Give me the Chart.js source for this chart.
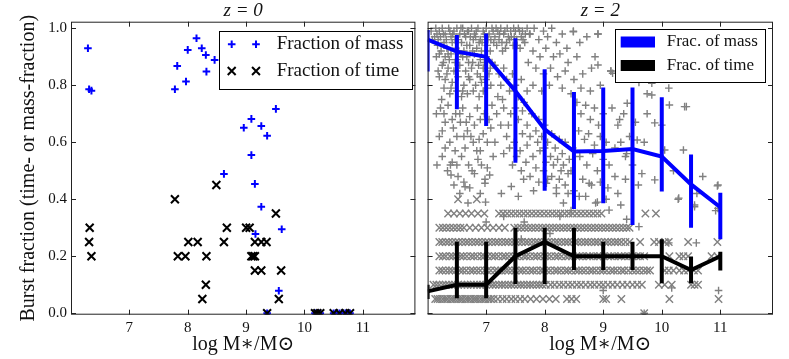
<!DOCTYPE html>
<html>
<head>
<meta charset="utf-8">
<script src="https://cdn.jsdelivr.net/npm/chart.js@4.4.3/dist/chart.umd.min.js"></script>
<style>
  html, body { margin: 0; padding: 0; background: #fff; }
  #wrap { position: relative; width: 789px; height: 359px; overflow: hidden; }
  canvas { position: absolute; top: 0; }
  #c-z0 { left: 0; }
  #c-z2 { left: 421px; }
</style>
</head>
<body>
<div id="wrap">
  <canvas id="c-z0" width="423" height="359"></canvas>
  <canvas id="c-z2" width="368" height="359"></canvas>
</div>
<script>
const FONT = "'Liberation Serif', 'DejaVu Serif', serif";
const BLUE = "#0000ff";
const GREY = "#808080";
const INK = "#111";

const xTicks = [7, 8, 9, 10, 11];
const yTicks = [0, 0.2, 0.4, 0.6, 0.8, 1.0];
const yTickText = ["0.0", "0.2", "0.4", "0.6", "0.8", "1.0"];

// z = 0: individual galaxies
const z0MassX = [6.29, 6.31, 6.35, 7.78, 7.82, 7.97, 8.0, 8.15, 8.24, 8.31, 8.32, 8.46, 8.62, 8.96, 9.09, 9.09, 9.15, 9.16, 9.26, 9.26, 9.36, 9.51, 9.56, 9.61, 9.36, 10.18, 10.22, 10.27, 10.5, 10.6, 10.7, 10.78];
const z0MassY = [0.93, 0.786, 0.781, 0.786, 0.868, 0.813, 0.924, 0.965, 0.93, 0.906, 0.848, 0.889, 0.489, 0.651, 0.682, 0.555, 0.454, 0.278, 0.657, 0.374, 0.623, 0.717, 0.079, 0.295, 0, 0, 0, 0, 0, 0, 0, 0];
const z0TimeX = [6.32, 6.31, 6.35, 7.78, 7.83, 7.96, 8.01, 8.17, 8.32, 8.31, 8.25, 8.49, 8.62, 8.67, 9.0, 9.06, 9.09, 9.15, 9.12, 9.15, 9.26, 9.35, 9.15, 9.26, 9.51, 9.6, 9.56, 9.36, 10.18, 10.22, 10.27, 10.5, 10.6, 10.7, 10.78];
const z0TimeY = [0.30, 0.25, 0.20, 0.40, 0.20, 0.20, 0.25, 0.25, 0.20, 0.10, 0.05, 0.45, 0.25, 0.30, 0.30, 0.30, 0.20, 0.20, 0.20, 0.25, 0.25, 0.25, 0.15, 0.15, 0.35, 0.15, 0.05, 0, 0, 0, 0, 0, 0, 0, 0];

// z = 2: binned medians with spread
const binX = [6.0, 6.5, 7.0, 7.5, 8.0, 8.5, 9.0, 9.5, 10.0, 10.5, 11.0];
const massMed = [0.96, 0.918, 0.90, 0.78, 0.645, 0.568, 0.569, 0.576, 0.55, 0.452, 0.372];
const massLo = [0.848, 0.716, 0.657, 0.528, 0.43, 0.366, 0.386, 0.31, 0.427, 0.30, 0.26];
const massHi = [0.994, 0.976, 0.982, 0.965, 0.856, 0.776, 0.792, 0.792, 0.758, 0.557, 0.423];
const timeMed = [0.077, 0.10, 0.10, 0.20, 0.25, 0.20, 0.20, 0.20, 0.20, 0.152, 0.20];
const timeLo = [0.05, 0.053, 0.053, 0.103, 0.103, 0.152, 0.152, 0.152, 0.105, 0.105, 0.15];
const timeHi = [0.10, 0.251, 0.251, 0.30, 0.30, 0.30, 0.251, 0.251, 0.26, 0.199, 0.216];

// z = 2: individual galaxies, mass fraction [logM, f]
const z2MassPts = [
  [6.14,1.0],[6.2,0.99],[6.25,1.0],[6.3,0.98],[6.36,1.0],[6.4,0.97],[6.45,0.99],[6.5,1.0],[6.55,0.98],[6.6,1.0],
  [6.65,0.97],[6.7,0.99],[6.75,1.0],[6.8,0.98],[6.86,1.0],[6.9,0.96],[6.95,0.99],[7.0,1.0],[7.05,0.98],[7.1,1.0],
  [7.15,0.97],[7.2,0.99],[7.25,1.0],[7.3,0.98],[7.36,1.0],[7.42,0.99],[7.48,0.97],[7.55,1.0],[7.62,0.99],[7.7,1.0],
  [6.18,0.96],[6.28,0.95],[6.33,0.93],[6.42,0.95],[6.48,0.93],[6.58,0.95],[6.62,0.92],[6.72,0.94],[6.78,0.96],[6.84,0.93],
  [6.93,0.95],[7.02,0.94],[7.08,0.96],[7.18,0.94],[7.27,0.95],[7.33,0.93],[7.4,0.96],[7.46,0.94],[7.52,0.96],[7.58,0.93],
  [7.66,0.95],[6.16,0.98],[6.22,0.97],[6.38,0.99],[6.52,0.96],[6.68,0.99],[6.82,0.97],[6.98,0.97],[7.12,0.99],[7.22,0.96],
  [7.38,0.97],[7.5,0.99],[7.6,0.97],[7.74,0.98],
  [6.06,0.99],[6.08,0.96],[6.12,0.97],[6.17,0.94],[6.23,0.92],[6.27,0.98],[6.32,0.96],[6.35,0.91],[6.43,0.98],[6.47,0.96],
  [6.53,0.92],[6.57,1.0],[6.63,0.98],[6.67,0.94],[6.73,0.97],[6.77,0.92],[6.83,0.99],[6.88,0.95],[6.92,0.92],[6.97,0.98],
  [7.03,0.96],[7.07,0.92],[7.13,0.95],[7.17,1.0],[7.23,0.98],[7.28,0.92],[7.32,0.99],[7.35,0.95],[7.43,0.97],[7.47,1.0],
  [7.53,0.94],[7.57,0.99],[7.63,0.96],[7.67,0.98],
  [6.2,0.91],[6.3,0.9],[6.4,0.91],[6.5,0.89],[6.6,0.9],[6.7,0.88],[6.8,0.91],[6.9,0.89],[7.0,0.9],[7.1,0.88],
  [6.25,0.87],[6.35,0.86],[6.45,0.85],[6.55,0.87],[6.65,0.85],[6.75,0.86],[6.85,0.84],[6.95,0.86],[7.05,0.84],[6.2,0.83],
  [6.3,0.82],[6.42,0.81],[6.52,0.83],[6.62,0.8],[6.72,0.82],[6.82,0.8],[6.92,0.81],[7.02,0.79],[6.28,0.79],[6.38,0.77],
  [6.5,0.78],[6.58,0.76],[6.68,0.77],[6.88,0.76],[6.24,0.75],
  [6.15,0.9],[6.27,0.88],[6.37,0.89],[6.47,0.88],[6.57,0.91],[6.67,0.9],[6.77,0.88],[6.87,0.87],[6.97,0.88],[7.07,0.86],
  [6.18,0.85],[6.33,0.84],[6.5,0.85],[6.7,0.83],[6.9,0.83],[7.0,0.82],[6.4,0.79],[6.6,0.78],[6.78,0.78],[6.95,0.78],[7.08,0.8],
  [6.22,0.72],[6.35,0.73],[6.48,0.7],[6.6,0.72],[6.72,0.69],[6.85,0.72],[6.97,0.7],[7.1,0.73],[6.3,0.67],[6.44,0.65],
  [6.56,0.67],[6.68,0.64],[6.8,0.66],[6.95,0.63],[7.08,0.65],[6.2,0.62],[6.38,0.6],[6.5,0.62],[6.64,0.58],[6.78,0.6],
  [6.9,0.57],[7.15,0.6],[6.25,0.55],[6.42,0.53],[6.58,0.55],[6.7,0.52],[6.86,0.54],[7.02,0.51],[6.34,0.5],[6.52,0.48],
  [6.62,0.46],[6.8,0.49],[6.98,0.47],
  [6.15,0.7],[6.28,0.7],[6.42,0.68],[6.55,0.7],[6.66,0.67],[6.9,0.68],[7.05,0.68],[6.25,0.64],[6.62,0.62],[6.74,0.62],
  [6.88,0.61],[7.02,0.6],[6.3,0.58],[6.47,0.57],[6.84,0.57],[6.16,0.52],[6.5,0.52],[6.76,0.5],[6.92,0.52],[7.12,0.55],
  [6.45,0.45],[6.72,0.44],[6.9,0.42],
  [7.75,0.98],[7.82,1.0],[7.9,0.96],[7.98,0.99],[8.05,0.97],[8.12,1.0],[8.2,0.95],[8.3,0.98],[8.38,0.93],[8.49,0.99],
  [8.6,0.95],[8.72,0.97],[8.91,0.98],[7.8,0.92],[7.92,0.9],[8.02,0.93],[8.15,0.9],[8.26,0.91],[8.4,0.88],[8.55,0.9],
  [8.86,0.9],[7.72,0.88],[7.85,0.86],[7.98,0.84],[8.1,0.86],[8.22,0.83],[8.35,0.85],[8.5,0.82],[8.65,0.84],[8.8,0.86],
  [9.13,0.85],[7.8,0.8],[7.95,0.78],[8.08,0.8],[8.3,0.79],[8.45,0.77],[8.62,0.79],[8.78,0.78],[8.95,0.8],
  [7.15,0.87],[7.22,0.84],[7.3,0.86],[7.25,0.8],[7.35,0.82],[7.4,0.78],[7.45,0.84],[7.5,0.8],[7.55,0.76],[7.6,0.82],
  [7.65,0.74],[7.7,0.78],[7.2,0.76],[7.3,0.72],[7.42,0.7],[7.55,0.68],[7.62,0.71],[7.7,0.66],[7.78,0.7],[7.85,0.64],
  [7.9,0.68],[7.95,0.62],[8.0,0.66],[8.05,0.6],[8.12,0.63],[8.18,0.58],[8.25,0.61],[8.3,0.56],[8.35,0.6],[8.42,0.54],
  [8.48,0.58],[7.25,0.66],[7.35,0.62],[7.48,0.6],[7.58,0.57],[7.7,0.59],[7.8,0.55],[7.92,0.57],[8.02,0.53],[8.15,0.52],
  [8.28,0.5],[8.4,0.49],[7.3,0.56],[7.45,0.52],[7.6,0.5],[7.75,0.48],[7.9,0.46],[8.05,0.47],[8.2,0.44],[8.35,0.45],
  [8.5,0.43],
  [7.18,0.7],[7.28,0.75],[7.38,0.66],[7.5,0.72],[7.62,0.63],[7.75,0.62],[7.88,0.6],[8.0,0.58],[8.1,0.55],[8.22,0.54],
  [8.32,0.52],[8.45,0.5],[7.4,0.58],[7.52,0.55],[7.68,0.53],[7.85,0.51],[7.98,0.5],[8.12,0.48],[8.25,0.47],[8.4,0.42],
  [8.55,0.74],[8.62,0.7],[8.7,0.73],[8.78,0.68],[8.85,0.72],[8.92,0.66],[9.0,0.7],[8.58,0.64],[8.68,0.61],[8.75,0.63],
  [8.85,0.59],[8.95,0.62],[9.05,0.6],[8.6,0.55],[8.72,0.52],[8.82,0.56],[8.9,0.5],[9.0,0.54],[9.1,0.52],[8.65,0.47],
  [8.8,0.45],[8.95,0.46],[9.08,0.44],[9.2,0.48],[8.7,0.41],[8.9,0.39],[9.05,0.4],[9.25,0.42],[9.15,0.72],[9.25,0.66],
  [9.3,0.6],[9.4,0.56],[9.2,0.58],[9.35,0.7],[9.45,0.62],[9.5,0.52],[9.38,0.47],[9.6,0.45],[9.55,0.67],[9.7,0.6],
  [9.61,0.81],[9.83,0.766],[9.75,0.7],
  [8.91,0.871],[9.16,0.842],[9.83,0.807],[10.12,0.79],[9.75,0.77],[9.41,0.737],[10.13,0.731],[10.42,0.725],[9.28,0.68],[9.88,0.668],
  [9.58,0.608],[10.05,0.573],[10.37,0.573],[9.38,0.55],[9.66,0.49],[9.88,0.468],[10.29,0.404],[10.95,0.447],[10.56,0.38],[8.49,0.988],
  [8.91,0.98],[9.13,0.85],[10.39,0.725],[10.6,0.42],[10.7,0.48],[10.2,0.5],[10.0,0.66],
  [6.39,0.52],[6.4,0.485],[6.64,0.444],[7.06,0.485],[6.98,0.456],[6.69,0.387],[6.99,0.39],[7.26,0.42],[7.43,0.445],[7.55,0.41],
  [7.64,0.47],[7.81,0.43],[8.03,0.456],[8.2,0.42],[8.32,0.387],[8.59,0.41],[8.76,0.456],[8.87,0.387],[7.65,0.32],[8.26,0.34],
  [8.09,0.28],[7.6,0.26],[9.1,0.362],[9.3,0.38],[10.56,0.374],[10.92,0.36],[9.61,0.304],[10.59,0.247],[10.12,0.247],[10.17,0.089],
  [10.97,0.08],[9.0,0.08],[10.96,0.45],[10.96,0.368],[10.28,0.4],[9.7,0.0],[8.45,0.36],[9.4,0.33],[7.3,0.34],[6.55,0.42],[7.0,0.32]
];

// z = 2: individual galaxies, time fraction (values fall on rows)
const timeRowY = [0, 0.05, 0.10, 0.15, 0.20, 0.25, 0.30, 0.35, 0.40];
const timeRowX = [
  [9.7],
  [6.13,6.17,6.21,6.26,6.3,6.34,6.39,6.43,6.47,6.52,6.56,6.6,6.65,6.69,6.73,6.78,6.82,6.86,6.91,6.95,6.99,7.04,7.08,7.13,
   7.2,7.28,7.35,7.43,7.5,7.58,7.66,7.76,7.86,7.97,8.08,8.19,8.38,8.46,8.54,9.0,9.05,9.31,10.13,10.97],
  [6.1,6.15,6.2,6.26,6.31,6.36,6.42,6.47,6.52,6.58,6.63,6.68,6.74,6.79,6.84,6.9,6.95,7.0,7.06,7.11,7.16,7.22,7.27,7.32,
   7.38,7.43,7.48,7.54,7.59,7.64,7.7,7.75,7.8,7.86,7.91,7.96,8.02,8.1,8.17,8.25,8.32,8.4,8.47,8.55,8.62,8.7,8.78,8.85,
   8.93,9.0,9.08,9.16,9.24,9.33,9.41,9.5,9.58,9.66,9.95,10.05,10.17,10.5,10.56,10.62],
  [6.2,6.25,6.31,6.37,6.42,6.48,6.55,6.6,6.66,6.73,6.78,6.84,6.9,6.97,7.02,7.08,7.15,7.2,7.26,7.33,7.38,7.44,7.5,7.57,
   7.62,7.68,7.75,7.8,7.86,7.93,7.98,8.04,8.1,8.17,8.22,8.28,8.35,8.4,8.46,8.53,8.58,8.64,8.7,8.77,8.82,8.88,8.95,9.0,
   9.06,9.13,9.18,9.24,9.31,9.36,9.43,9.5,9.56,9.62,9.69,9.75,9.8,10.05,10.12,10.2,10.3,10.38,10.45,10.55,10.62],
  [6.2,6.26,6.31,6.38,6.43,6.49,6.56,6.61,6.67,6.74,6.79,6.85,6.92,6.97,7.03,7.1,7.15,7.21,7.28,7.33,7.39,7.46,7.51,7.57,
   7.64,7.69,7.75,7.82,7.87,7.93,8.0,8.05,8.11,8.18,8.23,8.29,8.36,8.41,8.47,8.54,8.59,8.65,8.72,8.77,8.83,8.9,8.95,9.01,
   9.08,9.13,9.19,9.26,9.31,9.37,9.44,9.5,9.57,9.63,9.7,10.13,10.3,10.37,10.45,10.85,10.95],
  [6.2,6.25,6.31,6.36,6.42,6.48,6.53,6.59,6.65,6.7,6.76,6.82,6.87,6.93,6.99,7.04,7.1,7.16,7.21,7.27,7.33,7.38,7.44,7.5,
   7.55,7.61,7.67,7.72,7.78,7.84,7.89,7.95,8.01,8.06,8.12,8.18,8.23,8.29,8.35,8.4,8.46,8.52,8.57,8.63,8.69,8.74,8.8,8.86,
   8.91,8.97,9.03,9.08,9.14,9.2,9.25,9.31,9.38,9.45,9.63,9.87,9.95,10.05,10.12,10.45,10.95],
  [6.2,6.26,6.32,6.38,6.44,6.5,6.56,6.62,6.72,6.82,6.92,7.02,7.12,7.22,7.32,
   7.48,7.54,7.6,7.66,7.72,7.78,7.84,7.9,7.96,8.02,8.08,8.14,8.2,8.26,8.32,8.38,8.44,8.5,8.56,8.62,8.68,8.74,8.8,8.86,
   8.92,8.98,9.04,9.1,9.16,9.22,9.28,9.34,9.4,9.45],
  [6.35,6.45,6.55,6.65,6.75,6.86,6.97,
   7.22,7.29,7.36,7.43,7.5,7.57,7.64,7.71,7.78,7.85,7.92,7.99,8.06,8.13,8.2,8.27,8.34,8.41,8.48,8.55,8.62,8.69,8.76,8.83,
   8.9,8.97,9.72,9.9],
  [6.52, 6.84]
];

const pts = (xs, ys) => xs.map((x, i) => ({ x, y: ys[i] }));
const rowPts = () => timeRowY.flatMap((y, i) => timeRowX[i].map((x) => ({ x, y })));

// vertical spread bars, drawn through the chart's own scales
const errorBars = {
  id: "errorBars",
  afterDatasetsDraw(chart) {
    const { ctx, chartArea: a, scales: { x, y } } = chart;
    ctx.save();
    ctx.beginPath();
    ctx.rect(a.left, a.top, a.width, a.height);
    ctx.clip();
    for (const d of chart.data.datasets) {
      if (!d.errLo) continue;
      ctx.strokeStyle = d.borderColor;
      ctx.lineWidth = 4;
      ctx.beginPath();
      d.data.forEach((p, i) => {
        const px = x.getPixelForValue(p.x);
        ctx.moveTo(px, y.getPixelForValue(d.errLo[i]));
        ctx.lineTo(px, y.getPixelForValue(d.errHi[i]));
      });
      ctx.stroke();
    }
    ctx.restore();
  },
};

// full box with inward ticks (matplotlib look)
const frame = {
  id: "frame",
  afterDatasetsDraw(chart) {
    const { ctx, chartArea: a, scales: { x, y } } = chart;
    const L = 5;
    ctx.save();
    ctx.strokeStyle = "#222";
    ctx.lineWidth = 1;
    ctx.strokeRect(a.left + 0.5, a.top + 0.5, a.width - 1, a.height - 1);
    ctx.beginPath();
    for (const v of xTicks) {
      const px = Math.round(x.getPixelForValue(v)) + 0.5;
      ctx.moveTo(px, a.bottom); ctx.lineTo(px, a.bottom - L);
      ctx.moveTo(px, a.top); ctx.lineTo(px, a.top + L);
    }
    for (const v of yTicks) {
      const py = Math.round(y.getPixelForValue(v)) + 0.5;
      ctx.moveTo(a.left, py); ctx.lineTo(a.left + L, py);
      ctx.moveTo(a.right, py); ctx.lineTo(a.right - L, py);
    }
    ctx.stroke();
    ctx.restore();
  },
};

function drawMark(ctx, style, x, y, r) {
  ctx.beginPath();
  if (style === "cross") {
    ctx.moveTo(x - r, y); ctx.lineTo(x + r, y);
    ctx.moveTo(x, y - r); ctx.lineTo(x, y + r);
  } else {
    const d = r * Math.SQRT1_2;
    ctx.moveTo(x - d, y - d); ctx.lineTo(x + d, y + d);
    ctx.moveTo(x - d, y + d); ctx.lineTo(x + d, y - d);
  }
  ctx.stroke();
}

const boxLegend = {
  id: "boxLegend",
  afterDraw(chart, args, o) {
    if (!o.box) return;
    const ctx = chart.ctx;
    const items = chart.data.datasets.filter((d) => d.label);
    const [bx, by, bw, bh] = o.box;
    ctx.save();
    ctx.fillStyle = "#fff";
    ctx.fillRect(bx, by, bw, bh);
    ctx.strokeStyle = "#000";
    ctx.lineWidth = 1;
    ctx.strokeRect(bx + 0.5, by + 0.5, bw, bh);
    ctx.font = `${o.fontSize}px ${FONT}`;
    ctx.textBaseline = "middle";
    items.forEach((d, i) => {
      const cy = o.rowY[i];
      if (o.kind === "marker") {
        ctx.strokeStyle = d.pointBorderColor;
        ctx.lineWidth = d.pointBorderWidth;
        o.markX.forEach((mx) => drawMark(ctx, d.pointStyle, mx, cy, d.pointRadius));
      } else {
        ctx.fillStyle = d.borderColor;
        ctx.fillRect(o.markX[0], cy - o.patch[1] / 2, o.patch[0], o.patch[1]);
      }
      ctx.fillStyle = INK;
      ctx.fillText(d.label, o.textX, cy);
    });
    ctx.restore();
  },
};

function panelOptions(title, withY, legend) {
  return {
    responsive: false,
    animation: false,
    events: [],
    layout: { padding: withY ? { left: 0, right: 1, top: 0, bottom: 0 } : { left: 1, right: 16, top: 0, bottom: 0 } },
    plugins: {
      legend: { display: false },
      tooltip: { enabled: false },
      title: {
        display: true, text: title, fullSize: false, color: INK,
        font: { family: FONT, size: 19, style: "italic", weight: "normal", lineHeight: 1 },
        padding: { top: 1.5, bottom: 1.2 },
      },
      boxLegend: legend,
    },
    scales: {
      x: {
        type: "linear", min: 6, max: 11.9,
        afterBuildTicks: (s) => { s.ticks = xTicks.map((v) => ({ value: v })); },
        afterFit: (s) => { s.height = 44.3; },
        grid: { display: false, drawTicks: false },
        border: { display: false },
        ticks: { color: INK, padding: 4, font: { family: FONT, size: 15 } },
        title: {
          display: true, text: "log M\u2217/M\u2299", color: INK,
          font: { family: FONT, size: 20, lineHeight: 1.2 }, padding: { top: 0, bottom: 2 },
        },
      },
      y: {
        type: "linear", min: -0.005, max: 1.023, display: withY,
        afterBuildTicks: (s) => { s.ticks = yTicks.map((v) => ({ value: v })); },
        afterFit: (s) => { s.width = withY ? 71 : 0; },
        grid: { display: false, drawTicks: false },
        border: { display: false },
        ticks: {
          color: INK, padding: 4, font: { family: FONT, size: 15 },
          callback: (v) => yTickText[yTicks.indexOf(v)],
        },
        title: {
          display: true, text: "Burst fraction (time- or mass-fraction)", color: INK,
          font: { family: FONT, size: 20, lineHeight: 1.2 }, padding: { top: 17, bottom: 0 },
        },
      },
    },
  };
}

new Chart(document.getElementById("c-z0"), {
  type: "scatter",
  data: {
    datasets: [
      { label: "Fraction of mass", data: pts(z0MassX, z0MassY), pointStyle: "cross", pointRadius: 3.8,
        pointBorderColor: BLUE, pointBorderWidth: 2, order: 2 },
      { label: "Fraction of time", data: pts(z0TimeX, z0TimeY), pointStyle: "crossRot", pointRadius: 5.6,
        pointBorderColor: "#000", pointBorderWidth: 2, order: 1 },
    ],
  },
  options: panelOptions("z = 0", true, {
    box: [219, 31, 193, 58], rowY: [44.3, 71], markX: [231.7, 256], textX: 276.7, fontSize: 19, kind: "marker",
  }),
  plugins: [errorBars, frame, boxLegend],
});

new Chart(document.getElementById("c-z2"), {
  type: "scatter",
  data: {
    datasets: [
      { data: z2MassPts.map(([x, y]) => ({ x, y })), pointStyle: "cross", pointRadius: 3.8,
        pointBorderColor: GREY, pointBorderWidth: 1.4, order: 4 },
      { data: rowPts(), pointStyle: "crossRot", pointRadius: 5.2,
        pointBorderColor: GREY, pointBorderWidth: 1.4, order: 3 },
      { label: "Frac. of mass", data: pts(binX, massMed), showLine: true, borderColor: BLUE, borderWidth: 4,
        pointRadius: 0, errLo: massLo, errHi: massHi, order: 2 },
      { label: "Frac. of time", data: pts(binX, timeMed), showLine: true, borderColor: "#000", borderWidth: 4,
        pointRadius: 0, errLo: timeLo, errHi: timeHi, order: 1 },
    ],
  },
  options: panelOptions("z = 2", false, {
    box: [194, 29, 150, 53], rowY: [42, 65.5], markX: [199.7], patch: [34.3, 11], textX: 245.7, fontSize: 17, kind: "patch",
  }),
  plugins: [errorBars, frame, boxLegend],
});
</script>
</body>
</html>
